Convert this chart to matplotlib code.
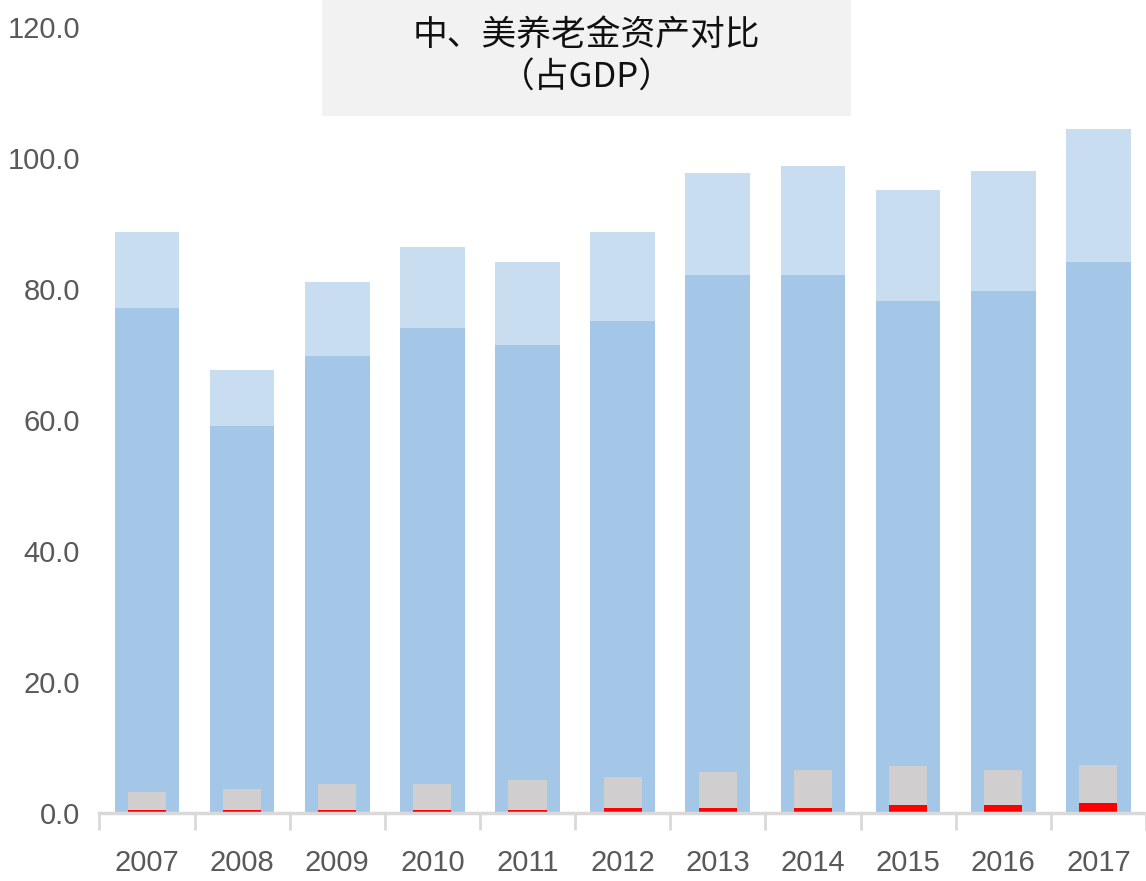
import numpy as np
import matplotlib.pyplot as plt
from matplotlib.patches import Rectangle

years = ['2007', '2008', '2009', '2010', '2011', '2012', '2013', '2014', '2015', '2016', '2017']
# US pension assets (% of GDP), outer and inner layer
us_total = [88.7, 67.6, 81.1, 86.4, 84.1, 88.7, 97.7, 98.8, 95.1, 98.0, 104.4]
us_part = [77.1, 59.1, 69.8, 74.0, 71.5, 75.1, 82.1, 82.1, 78.2, 79.7, 84.1]
# China pension assets (% of GDP)
cn_total = [3.2, 3.6, 4.4, 4.4, 5.0, 5.5, 6.2, 6.5, 7.1, 6.5, 7.4]
cn_part = [0.4, 0.4, 0.4, 0.4, 0.4, 0.8, 0.8, 0.8, 1.2, 1.2, 1.6]

x = np.arange(len(years))

fig = plt.figure(figsize=(11.46, 8.81), dpi=100)
ax = fig.add_axes([0.0867, 0.0772, 0.9133, 0.8922])

ax.bar(x, us_total, width=0.68, color='#c9ddf1', zorder=2)
ax.bar(x, us_part, width=0.68, color='#a4c7e7', zorder=3)
ax.bar(x, cn_total, width=0.40, color='#d0cece', zorder=4)
ax.bar(x, cn_part, width=0.40, color='#ff0000', zorder=5)

ax.set_xlim(-0.5, len(years) - 0.5)
ax.set_ylim(0, 120)
ax.set_yticks(np.arange(0, 121, 20))
ax.set_yticklabels(['%.1f' % v for v in np.arange(0, 121, 20)])
ax.set_xticks(x)
ax.set_xticklabels(years)
ax.set_xticks(np.arange(-0.5, len(years), 1.0), minor=True)

for s in ['left', 'right', 'top']:
    ax.spines[s].set_visible(False)
ax.spines['bottom'].set_color('#d9d9d9')
ax.spines['bottom'].set_linewidth(2.5)
ax.spines['bottom'].set_zorder(6)

tick_font = ['Liberation Sans', 'DejaVu Sans']
ax.tick_params(axis='x', which='major', length=0, pad=26, labelsize=21, labelcolor='#595959')
ax.tick_params(axis='x', which='minor', length=12, width=2, color='#d9d9d9')
ax.tick_params(axis='y', length=0, pad=14, labelsize=21, labelcolor='#595959')
for lab in ax.get_xticklabels() + ax.get_yticklabels():
    lab.set_family(tick_font)

# title box
fig.patches.append(Rectangle((0.281, 0.8683), 0.4616, 0.1317, transform=fig.transFigure,
                             facecolor='#f2f2f2', edgecolor='none', zorder=10))
cjk = ['Noto Sans CJK SC', 'DejaVu Sans']
fig.text(0.512, 0.960, '中、美养老金资产对比', ha='center', va='center', fontsize=25,
         family=cjk, color='#111111', zorder=11)
fig.text(0.512, 0.911, '（占GDP）', ha='center', va='center', fontsize=25,
         family=cjk, color='#111111', zorder=11)

fig.savefig('out.png', dpi=100)
